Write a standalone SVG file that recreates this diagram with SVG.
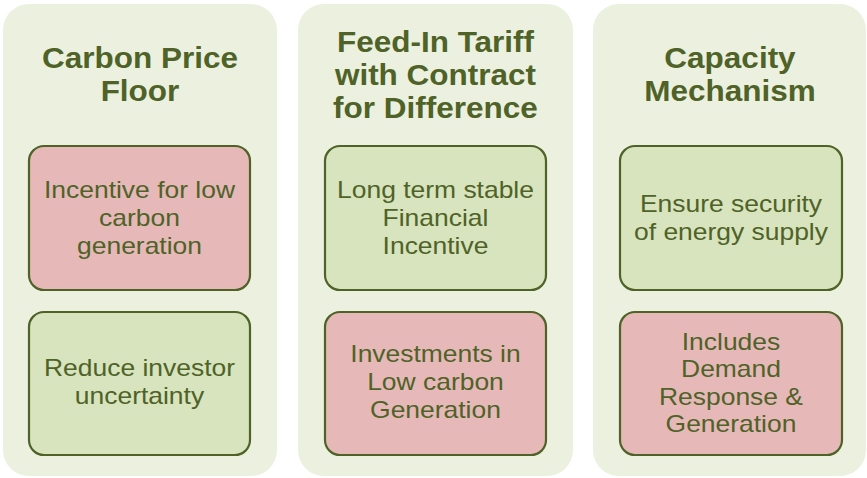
<svg xmlns="http://www.w3.org/2000/svg" width="867" height="478" viewBox="0 0 867 478">
<style>
.panel{fill:#EBF1DE;stroke:none}
.box{stroke:#4F6228;stroke-width:2.2}
.pink{fill:#E6B9B8}
.green{fill:#D7E4BD}
.title{font-family:"Liberation Sans",Arial,sans-serif;font-weight:bold;font-size:30px;fill:#4F6228;text-anchor:middle}
.body{font-family:"Liberation Sans",Arial,sans-serif;font-size:23px;fill:#4F6228;text-anchor:middle}
</style>
<rect width="867" height="478" fill="#FFFFFF"/>
<g id="panel-carbon-price-floor">
<rect class="panel" x="3" y="4" width="274" height="472" rx="26"/>
<g transform="matrix(1.05 0 0 1 -7 0)">
<text class="title" x="140" y="68">Carbon Price</text>
<text class="title" x="140" y="101">Floor</text>
</g>
</g>
<g id="panel-feed-in-tariff">
<rect class="panel" x="298" y="4" width="275" height="472" rx="26"/>
<g transform="matrix(1.05 0 0 1 -21.775 0)">
<text class="title" x="435.5" y="52">Feed-In Tariff</text>
<text class="title" x="435.5" y="85">with Contract</text>
<text class="title" x="435.5" y="118">for Difference</text>
</g>
</g>
<g id="panel-capacity-mechanism">
<rect class="panel" x="593" y="4" width="273" height="472" rx="26"/>
<g transform="matrix(1.05 0 0 1 -36.5 0)">
<text class="title" x="730" y="68">Capacity</text>
<text class="title" x="730" y="101">Mechanism</text>
</g>
</g>
<g id="node-incentive">
<rect class="box pink" x="29" y="146" width="221" height="144" rx="15"/>
<g transform="matrix(1.15 0 0 1 -20.925 0)">
<text class="body" x="139.5" y="198">Incentive for low</text>
<text class="body" x="139.5" y="226">carbon</text>
<text class="body" x="139.5" y="254">generation</text>
</g>
</g>
<g id="node-reduce">
<rect class="box green" x="29" y="312" width="221" height="143" rx="15"/>
<g transform="matrix(1.15 0 0 1 -20.925 0)">
<text class="body" x="139.5" y="376">Reduce investor</text>
<text class="body" x="139.5" y="404">uncertainty</text>
</g>
</g>
<g id="node-long-term">
<rect class="box green" x="325" y="146" width="221" height="144" rx="15"/>
<g transform="matrix(1.15 0 0 1 -65.325 0)">
<text class="body" x="435.5" y="198">Long term stable</text>
<text class="body" x="435.5" y="226">Financial</text>
<text class="body" x="435.5" y="254">Incentive</text>
</g>
</g>
<g id="node-investments">
<rect class="box pink" x="325" y="312" width="221" height="143" rx="15"/>
<g transform="matrix(1.15 0 0 1 -65.325 0)">
<text class="body" x="435.5" y="362">Investments in</text>
<text class="body" x="435.5" y="390">Low carbon</text>
<text class="body" x="435.5" y="418">Generation</text>
</g>
</g>
<g id="node-ensure">
<rect class="box green" x="620" y="146" width="222" height="144" rx="15"/>
<g transform="matrix(1.15 0 0 1 -109.65 0)">
<text class="body" x="731" y="212">Ensure security</text>
<text class="body" x="731" y="240">of energy supply</text>
</g>
</g>
<g id="node-includes">
<rect class="box pink" x="620" y="312" width="222" height="143" rx="15"/>
<g transform="matrix(1.15 0 0 1 -109.65 0)">
<text class="body" x="731" y="350">Includes</text>
<text class="body" x="731" y="377">Demand</text>
<text class="body" x="731" y="405">Response &amp;</text>
<text class="body" x="731" y="432">Generation</text>
</g>
</g>
<g id="connectors"></g>
</svg>
